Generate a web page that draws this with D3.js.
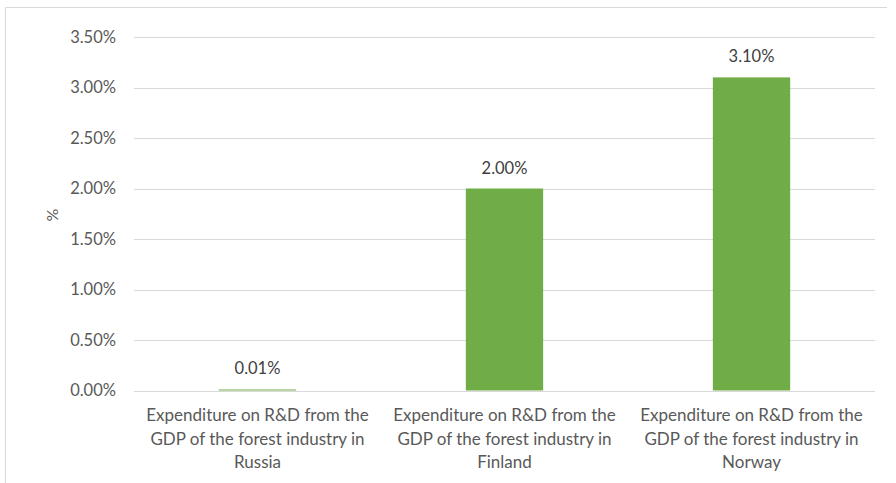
<!DOCTYPE html>
<html>
<head>
<meta charset="utf-8">
<script src="https://cdn.jsdelivr.net/npm/d3@7"></script>
<style>
  html, body { margin: 0; padding: 0; background: #fff; }
  svg { display: block; font-family: Lato, "Open Sans", sans-serif; }
</style>
</head>
<body>
<svg id="chart" width="896" height="483"></svg>
<script>
// ---------- data ----------
var categories = ["Russia", "Finland", "Norway"];
var labelLines = [
  ["Expenditure on R&D from the", "GDP of the forest industry in", "Russia"],
  ["Expenditure on R&D from the", "GDP of the forest industry in", "Finland"],
  ["Expenditure on R&D from the", "GDP of the forest industry in", "Norway"]
];
var values = [0.0001, 0.02, 0.031];
var yTicks = [0, 0.005, 0.01, 0.015, 0.02, 0.025, 0.03, 0.035];

var svg = d3.select("#chart");
var W = 896, H = 483;
var m = { l: 134, r: 21, t: 37, b: 92.5 };

// outer chart border (top + left only visible in the crop)
svg.append("path").attr("d", "M5.5," + H + "V7.5H887").attr("fill", "none").attr("stroke", "#d9d9d9").attr("stroke-width", 1);

var x = d3.scaleBand().domain(categories).range([m.l, W - m.r]).padding(0);
var y = d3.scaleLinear().domain([0, 0.035]).range([H - m.b, m.t]);

// grid
svg.append("g").selectAll("line").data(yTicks).enter().append("line")
  .attr("x1", m.l).attr("x2", W - m.r)
  .attr("y1", function (d) { return Math.round(y(d)) + 0.5; })
  .attr("y2", function (d) { return Math.round(y(d)) + 0.5; })
  .attr("stroke", "#d9d9d9").attr("stroke-width", 1);

// y tick labels
svg.append("g").selectAll("text").data(yTicks).enter().append("text")
  .attr("x", 116).attr("y", function (d) { return y(d); }).attr("dy", "0.35em")
  .attr("text-anchor", "end").attr("fill", "#595959").attr("font-size", 16.5)
  .text(function (d) { return d3.format(".2%")(d); });

// y title
svg.append("text").attr("transform", "translate(58,215) rotate(-90)")
  .attr("text-anchor", "middle").attr("fill", "#595959").attr("font-size", 16).text("%");

// bars
var bw = x.bandwidth() * 0.313;
svg.append("g").selectAll("rect").data(values).enter().append("rect")
  .attr("x", function (d, i) { return x(categories[i]) + x.bandwidth() / 2 - bw / 2; })
  .attr("width", bw)
  .attr("y", function (d) { return y(d); })
  .attr("height", function (d) { return y(0) - y(d); })
  .attr("fill", "#70ad47");

// value labels
svg.append("g").selectAll("text").data(values).enter().append("text")
  .attr("x", function (d, i) { return x(categories[i]) + x.bandwidth() / 2; })
  .attr("y", function (d) { return y(d) - 15; })
  .attr("text-anchor", "middle").attr("fill", "#404040").attr("font-size", 16.5)
  .text(function (d) { return d3.format(".2%")(d); });

// category labels
var cg = svg.append("g").selectAll("text").data(labelLines).enter().append("text")
  .attr("text-anchor", "middle").attr("fill", "#595959").attr("font-size", 17);
cg.each(function (lines, i) {
  var t = d3.select(this);
  lines.forEach(function (s, k) {
    t.append("tspan").attr("x", x(categories[i]) + x.bandwidth() / 2).attr("y", 421 + k * 23.5).text(s);
  });
});
</script>
</body>
</html>
